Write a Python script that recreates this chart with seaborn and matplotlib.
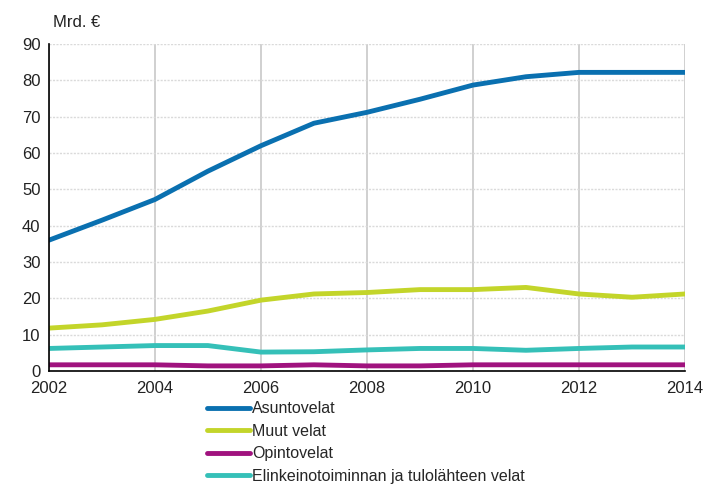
import matplotlib
matplotlib.use("Agg")
import matplotlib.pyplot as plt
import seaborn as sns
import pandas as pd

years = list(range(2002, 2015))
asuntovelat = [36.0, 41.5, 47.2, 55.0, 62.0, 68.2, 71.2, 74.8, 78.7, 81.0, 82.2, 82.2, 82.2]
muut_velat = [11.8, 12.7, 14.2, 16.5, 19.5, 21.2, 21.6, 22.4, 22.4, 23.0, 21.2, 20.3, 21.2]
opintovelat = [1.7, 1.7, 1.7, 1.4, 1.4, 1.7, 1.4, 1.4, 1.7, 1.7, 1.7, 1.7, 1.7]
elinkeino = [6.2, 6.6, 7.0, 7.0, 5.2, 5.3, 5.8, 6.2, 6.2, 5.7, 6.2, 6.6, 6.6]
series_names = ["Asuntovelat", "Muut velat", "Opintovelat", "Elinkeinotoiminnan ja tulolähteen velat"]
colors = ["#0a70b0", "#c3d52a", "#a0127e", "#35c0b8"]
y_ticks = [0, 10, 20, 30, 40, 50, 60, 70, 80, 90]
x_ticks = [2002, 2004, 2006, 2008, 2010, 2012, 2014]

rows = []
for name, vals in zip(series_names, [asuntovelat, muut_velat, opintovelat, elinkeino]):
    for y, v in zip(years, vals):
        rows.append({"Vuosi": y, "Arvo": v, "Sarja": name})
df = pd.DataFrame(rows)

sns.set_style("white")
plt.rcParams["font.family"] = ["Liberation Sans", "DejaVu Sans"]

fig = plt.figure(figsize=(7.08, 4.84), dpi=100)
ax = fig.add_axes([0.069, 0.2335, 0.8985, 0.6755])

sns.lineplot(data=df, x="Vuosi", y="Arvo", hue="Sarja", hue_order=series_names,
             palette=colors, linewidth=3.5, ax=ax, legend=True)

ax.set_xlim(2002, 2014)
ax.set_ylim(0, 90)
ax.set_xticks(x_ticks)
ax.set_yticks(y_ticks)
ax.set_xlabel("")
ax.set_ylabel("")
ax.tick_params(axis="both", labelsize=12, colors="#222222")
ax.tick_params(axis="x", length=5, width=1, color="black", direction="out", pad=2)
ax.tick_params(axis="y", length=0, pad=6)

ax.xaxis.grid(True, color="#c8c8c8", linewidth=1.2, linestyle="-")
ax.yaxis.grid(True, color="#dadada", linewidth=1.0, linestyle=(0, (1.5, 1)))
ax.set_axisbelow(True)
for s in ["top", "right"]:
    ax.spines[s].set_visible(False)
ax.spines["left"].set_color("black")
ax.spines["left"].set_linewidth(1.2)
ax.spines["bottom"].set_color("black")
ax.spines["bottom"].set_linewidth(1.2)

fig.text(0.075, 0.938, "Mrd. €", fontsize=12, color="#222222", ha="left", va="bottom")

leg = ax.legend(loc="upper left", bbox_to_anchor=(0.248, -0.093), ncol=1, frameon=False,
                fontsize=11.5, handlelength=2.7, handletextpad=0.15, labelspacing=0.47,
                borderaxespad=0, borderpad=0)
for line in leg.get_lines():
    line.set_linewidth(3.5)

fig.savefig("out.png", dpi=100)
